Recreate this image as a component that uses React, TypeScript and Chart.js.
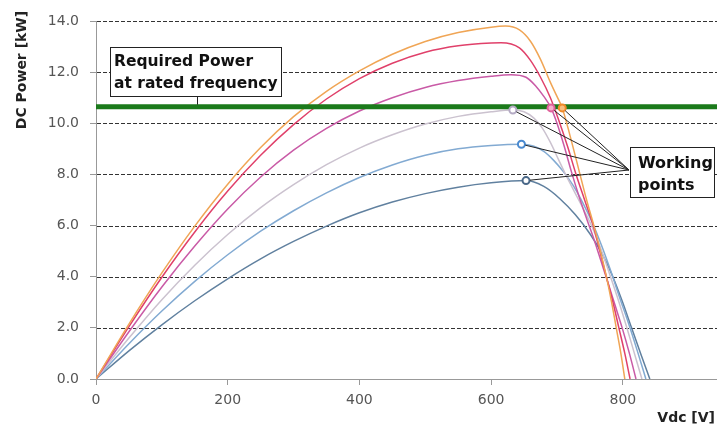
import React, { useEffect, useRef } from "react";
import { Chart, registerables } from "chart.js";

Chart.register(...registerables);

// Curves: DC voltage [V] and DC power [kW]
const orangeV = [0, 50, 100, 150, 200, 250, 300, 350, 400, 450, 500, 550, 600, 622, 643, 660, 675, 690, 700, 708, 720, 733, 745, 756, 766, 775, 783, 790, 797, 803];
const orangeP = [0, 2.15, 4.15, 5.98, 7.62, 9.05, 10.26, 11.25, 12.05, 12.7, 13.2, 13.55, 13.76, 13.8, 13.65, 13.2, 12.5, 11.6, 11.05, 10.6, 9.5, 8.2, 7.0, 6.0, 5.0, 4.0, 3.0, 2.0, 1.0, 0];

const redV = [0, 50, 100, 150, 200, 250, 300, 350, 400, 450, 500, 550, 600, 615, 643, 660, 675, 690, 703, 716, 729, 742, 755, 765, 775, 785, 794, 803, 811];
const redP = [0, 2.05, 3.98, 5.75, 7.35, 8.75, 9.95, 10.95, 11.75, 12.35, 12.78, 13.03, 13.14, 13.15, 12.95, 12.45, 11.8, 11.0, 10.1, 9.1, 8.0, 7.0, 6.0, 5.0, 4.0, 3.0, 2.0, 1.0, 0];

const magentaV = [0, 50, 100, 150, 200, 250, 300, 350, 400, 450, 500, 550, 600, 630, 653, 668, 680, 691, 700, 711, 722, 734, 746, 757, 767, 777, 788, 799, 810, 820];
const magentaP = [0, 1.85, 3.6, 5.2, 6.65, 7.9, 8.95, 9.8, 10.48, 11.0, 11.4, 11.67, 11.84, 11.9, 11.8, 11.45, 11.05, 10.6, 10.0, 9.1, 8.1, 7.1, 6.2, 5.4, 4.6, 3.8, 2.9, 2.0, 1.0, 0];

const greyV = [0, 50, 100, 150, 200, 250, 300, 350, 400, 450, 500, 550, 600, 633, 650, 665, 678, 690, 702, 714, 727, 741, 755, 768, 780, 793, 805, 817, 829];
const greyP = [0, 1.6, 3.1, 4.45, 5.65, 6.7, 7.6, 8.38, 9.03, 9.55, 9.97, 10.27, 10.45, 10.52, 10.45, 10.2, 9.8, 9.25, 8.6, 7.95, 7.3, 6.6, 5.85, 5.0, 4.1, 3.1, 2.1, 1.05, 0];

const blueV = [0, 50, 100, 150, 200, 250, 300, 350, 400, 450, 500, 550, 600, 646, 665, 680, 695, 710, 725, 740, 754, 768, 782, 795, 809, 822, 835];
const blueP = [0, 1.38, 2.66, 3.82, 4.86, 5.78, 6.58, 7.28, 7.88, 8.37, 8.75, 9.0, 9.13, 9.18, 9.1, 8.9, 8.55, 8.1, 7.55, 6.85, 6.1, 5.2, 4.2, 3.2, 2.15, 1.1, 0];

const darkV = [0, 50, 100, 150, 200, 250, 300, 350, 400, 450, 500, 550, 600, 653, 680, 704, 728, 750, 768, 784, 799, 813, 827, 841];
const darkP = [0, 1.1, 2.12, 3.06, 3.92, 4.7, 5.38, 5.98, 6.5, 6.92, 7.25, 7.5, 7.67, 7.76, 7.53, 7.06, 6.42, 5.68, 4.92, 4.05, 3.05, 2.02, 1.0, 0];

const curveColors = ["#f0a555", "#e0406a", "#c95aa6", "#cbc2cf", "#82aad2", "#60809f"];

// Required power at rated frequency [kW]
const requiredPower = 10.65;

// Working points
const wpV = [633, 646, 653, 691, 708];
const wpP = [10.52, 9.18, 7.76, 10.6, 10.6];
const wpColors = ["#b4aac4", "#4a8ad0", "#4a6888", "#e0609a", "#f08a2a"];
const wpFills = ["#ffffff", "#ffffff", "#ffffff", "#f6b0cc", "#f8c080"];

const xMin = 0;
const xMax = 943;
const yTicks = [0, 2, 4, 6, 8, 10, 12, 14];

const FONT = '"DejaVu Sans", sans-serif';

function pts(v: number[], p: number[]) {
  return v.map((x, i) => ({ x, y: p[i] }));
}

const annotPlugin = {
  id: "annot",
  beforeDatasetsDraw(chart: any) {
    const { ctx, chartArea, scales } = chart;
    const y = scales.y;
    ctx.save();
    ctx.strokeStyle = "#333";
    ctx.lineWidth = 1;
    ctx.setLineDash([4, 2]);
    for (const t of yTicks) {
      if (t === 0) continue;
      const py = Math.round(y.getPixelForValue(t)) + 0.5;
      ctx.beginPath();
      ctx.moveTo(chartArea.left + 1, py);
      ctx.lineTo(chartArea.right, py);
      ctx.stroke();
    }
    ctx.restore();
  },
  afterDatasetsDraw(chart: any) {
    const { ctx, scales } = chart;
    const x = scales.x;
    const y = scales.y;
    ctx.save();
    // leader lines
    const ox = 629;
    const oy = 170;
    ctx.strokeStyle = "#222";
    ctx.lineWidth = 1;
    for (let i = 0; i < wpV.length; i++) {
      const px = x.getPixelForValue(wpV[i]);
      const py = y.getPixelForValue(wpP[i]);
      const dx = px - ox;
      const dy = py - oy;
      const len = Math.hypot(dx, dy);
      const ex = px - (dx / len) * 4;
      const ey = py - (dy / len) * 4;
      ctx.beginPath();
      ctx.moveTo(ox, oy);
      ctx.lineTo(ex, ey);
      ctx.stroke();
    }

    // Required power box
    const greenY = y.getPixelForValue(requiredPower);
    ctx.beginPath();
    ctx.moveTo(197.5, 96);
    ctx.lineTo(197.5, greenY - 2);
    ctx.stroke();
    ctx.fillStyle = "#fff";
    ctx.fillRect(110, 47, 172, 50);
    ctx.strokeRect(110.5, 47.5, 171, 49);
    ctx.fillStyle = "#111";
    ctx.font = `bold 15.5px ${FONT}`;
    ctx.textAlign = "left";
    ctx.textBaseline = "alphabetic";
    ctx.fillText("Required Power", 114, 66);
    ctx.fillText("at rated frequency", 114, 88);

    // Working points box
    ctx.fillStyle = "#fff";
    ctx.fillRect(630, 147, 85, 51);
    ctx.strokeRect(630.5, 147.5, 84, 50);
    ctx.fillStyle = "#111";
    ctx.font = `bold 16px ${FONT}`;
    ctx.fillText("Working", 638, 168);
    ctx.fillText("points", 638, 190);

    // axis titles
    ctx.font = `bold 14px ${FONT}`;
    ctx.fillStyle = "#222";
    ctx.textAlign = "right";
    ctx.textBaseline = "middle";
    ctx.fillText("Vdc [V]", 715, 418);
    ctx.save();
    ctx.translate(22, 70);
    ctx.rotate(-Math.PI / 2);
    ctx.textAlign = "center";
    ctx.fillText("DC Power [kW]", 0, 0);
    ctx.restore();
    ctx.restore();
  },
};

export default function App() {
  const ref = useRef<HTMLCanvasElement | null>(null);

  useEffect(() => {
    if (!ref.current) return;
    const curves = [
      [orangeV, orangeP],
      [redV, redP],
      [magentaV, magentaP],
      [greyV, greyP],
      [blueV, blueP],
      [darkV, darkP],
    ];
    const datasets: any[] = curves.map(([v, p], i) => ({
      type: "line",
      data: pts(v, p),
      borderColor: curveColors[i],
      borderWidth: 1.5,
      pointRadius: 0,
      fill: false,
      cubicInterpolationMode: "monotone",
      order: 2,
    }));
    datasets.push({
      type: "line",
      data: [
        { x: xMin, y: requiredPower },
        { x: xMax, y: requiredPower },
      ],
      borderColor: "#1b7a1b",
      borderWidth: 5,
      pointRadius: 0,
      fill: false,
      order: 1,
    });
    datasets.push({
      type: "scatter",
      data: pts(wpV, wpP),
      pointRadius: 3.5,
      pointBorderWidth: 2,
      pointBackgroundColor: wpFills,
      pointBorderColor: wpColors,
      showLine: false,
      order: 0,
    });

    const chart = new Chart(ref.current, {
      type: "line",
      data: { datasets },
      options: {
        responsive: false,
        devicePixelRatio: 1,
        animation: false,
        layout: { autoPadding: false, padding: { top: 21, left: 0, right: 0, bottom: 0 } },
        plugins: { legend: { display: false }, tooltip: { enabled: false } },
        scales: {
          x: {
            type: "linear",
            min: xMin,
            max: xMax,
            ticks: {
              stepSize: 200,
              includeBounds: false,
              maxRotation: 0,
              font: { family: FONT, size: 14 },
              color: "#555",
              padding: 7,
            },
            grid: { drawOnChartArea: false, drawTicks: true, tickLength: 6, tickColor: "#999" },
            border: { color: "#999", width: 1 },
            afterFit: (s: any) => {
              s.height = 51;
              s.paddingRight = 0;
              s.paddingLeft = 0;
            },
          },
          y: {
            min: 0,
            max: 14,
            ticks: {
              stepSize: 2,
              callback: (v: any) => Number(v).toFixed(1),
              font: { family: FONT, size: 14 },
              color: "#555",
              padding: 11,
            },
            grid: { drawOnChartArea: false, drawTicks: true, tickLength: 6, tickColor: "#999" },
            border: { color: "#999", width: 1 },
            afterFit: (s: any) => {
              s.width = 96;
              s.paddingTop = 0;
              s.paddingBottom = 0;
            },
          },
        },
      } as any,
      plugins: [annotPlugin],
    });
    return () => chart.destroy();
  }, []);

  return (
    <div style={{ position: "fixed", left: 0, top: 0, width: 717, height: 430, background: "#fff" }}>
      <canvas ref={ref} width={717} height={430} />
    </div>
  );
}
